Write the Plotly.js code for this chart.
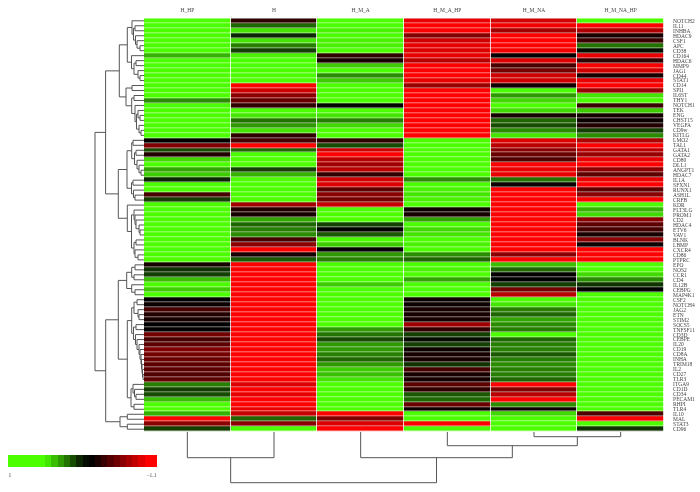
<!DOCTYPE html>
<html lang="en">
<head>
    <meta charset="UTF-8">
    <title>Heatmap</title>
    <script src="https://cdn.plot.ly/plotly-3.0.1.min.js"></script>
    <style>
        body { margin: 0; padding: 0; background: #fff; }
        /* small labels came out with coloured fringes */
        .xaxislayer-above, .yaxislayer-above { filter: grayscale(1); }
    </style>
</head>
<body>
    <div id="plot" style="width:700px;height:492px;"></div>
    <script>
        const groups = ['H_HP', 'H', 'H_M_A', 'H_M_A_HP', 'H_M_NA', 'H_M_NA_HP'];

        const genes = ['NOTCH2', 'IL11', 'INHBA', 'HDAC9', 'CSF1', 'APC', 'CD38', 'CD164', 'HDAC6', 'MMP9', 'JAG1', 'CD44', 'STAT1',
            'CD14', 'SPI1', 'IL6ST', 'THY1', 'NOTCH1', 'TEK', 'ENG', 'CHST15', 'VEGFA', 'CD9w', 'KITLG', 'LMO2', 'TAL1', 'GATA1', 'GATA2',
            'CD80', 'DLL1', 'ANGPT1', 'HDAC7', 'IL1A', 'SFXN1', 'RUNX1', 'ASH1L', 'CRFB', 'KDR', 'FLT3LG', 'PROM1', 'CD2', 'HDAC4', 'ETV6',
            'VAV1', 'BLNK', 'LBMP', 'CXCR4', 'CD86', 'PTPRC', 'EPO', 'NOS2', 'CCR1', 'CD4', 'IL12B', 'CEBPG', 'MAP4K1', 'CSF2', 'NOTCH4',
            'JAG2', 'ETN', 'STIM2', 'SOCS5', 'TNFSF11', 'CD3D', 'CEBPE', 'IL20', 'CD19', 'CD8A', 'INHA', 'TRIM18', 'IL2', 'CD27', 'TLR3',
            'ITGA9', 'CD1D', 'CD34', 'PECAM1', 'RHPI', 'TLR4', 'IL10', 'MAL', 'STAT3', 'CD96'];

        // values, one list per column, top row first
        const valuesHHp = [1, 1, 1, 1, 1, 1, 1, .7, 1, 1, 1, 1, 1, 1, 1, 1, .55, 1, 1, 1, 1, 1, 1, 1,
            0, -.55, .3, -.15, .85, 1, .65, .8, .15, 1, 1, -.3, .25, 1, 1, 1, 1, 1, 1, 1, 1, 1, 1, 1, 1,
            -.1, .2, .25, .75, 1, .8, 1, 0, -.05, -.3, -.15, -.1, 0, 0, -.5, -.3, -.4, -.55, -.5, -.45, -.4, -.4, -.35, -.4,
            .5, .25, .3, .75, 1, 1, .7, -1.1, -.6, .25];
        const valuesH = [-.2, .4, .9, .15, .9, .5, .25, .95, 1, 1, 1, 1, 1, -1.1, -.9, -.6, -.45, -.2, 1, .9, .45, .6, .9, -.2,
            -.3, -1.1, .4, 1, 1, 1, .25, .7, 1, 1, 1, 1, 1, -.7, -.15, -.1, .65, .4, .5, .55, -.3, -.6, -1.1, -.1, .35,
            -1.1, -1.1, -1.1, -1.1, -1.1, -1.1, -1.1, -1.1, -1.1, -1.1, -1.1, -1.1, -1.1, -1.1, -1.1, -1.1, -1.1, -1.1, -1.1, -1.1, -1.1, -1.1, -1.1, -1.1,
            -.95, -1.1, -1, -1.1, -1.1, -1, -.85, .4, -.6, 1];
        const valuesHMA = [1, 1, .95, 1, .95, .95, 1, -.2, -.1, .8, 1, .55, .8, 1, 1, 1, 1, 0, 1, .9, .5, .85, 1, 1,
            -.2, .3, -.9, -1.1, -.8, -.7, -.8, -.2, -.9, -.95, -.4, -.6, -.5, -.85, 1, 1, 1, .25, 0, .35, 1, .8, 0, .6, .5,
            1, 1, 1, 1, .8, 1, 1, 1, 1, 1, 1, 1, 1, .6, .45, .3, .6, .6, .5, .4, .6, .8, .75, .9,
            1, 1, 1, 1, 1, 1, -1.1, -.55, -.95, -1.1];
        const valuesHMAHp = [-1, -1.1, -1.1, -.55, -.9, -1, -.95, -1, -.8, -1.1, -1.1, -1.1, -1, -.65, -1.1, -1.1, -1.1, -1.1, -1.1, -1.1, -1.1, -1.1, -1.1, -1.1,
            1, 1, 1, 1, 1, 1, 1, 1, .55, 1, .95, .9, .95, 1, -.05, -.1, .65, 1, .85, .9, 1, .95, 1, .55, .4,
            1, .95, 1, .65, 1, 1, 1, -.05, -.05, -.1, -.1, -.1, -.7, -.2, .25, .05, .25, -.05, -.1, -.1, .2, -.3, -.1, -.1,
            -.4, -.2, .35, .4, -.45, -.05, 1, 1, -1.1, 1];
        const valuesHMNa = [-.9, -1.05, -.7, -1.1, -1.1, -1.1, -1.05, 0, -.95, -.3, -.5, -.9, -.9, -.05, 1, .6, .85, 1, .85, -.1, .4, .3, .55, .9,
            -.95, -.8, -.6, -.45, -.35, -1.1, -1, -1, .45, -.05, -1.1, -1.1, -1.1, -1.1, -1.1, -1.1, -1.1, -1.1, -1.1, -1.1, -1.1, -1.1, -1.1, -.6, -1.1,
            .75, .4, -.02, 0, .25, -.5, -.8, 1, .9, .5, .4, .65, .55, .5, 1, .4, .5, .5, .35, .5, .55, .5, .5, .4,
            -1.1, -.55, -.8, -1.1, .55, -.05, .85, 1, 1, 1];
        const valuesHMNaHp = [1, -1.1, -.75, -.1, -.25, .45, .05, -1, -.2, -1.1, -.9, -.1, -1, -1.1, -.65, .9, 1, -.25, .8, -.1, -.05, -.15, .25, .55,
            -.75, -1.1, -.8, -.65, -1, -1.1, -.6, -.4, -1, -1.1, -.4, -.6, -1.1, 1, .7, .85, -.6, -.4, -.3, -.1, -.6, -.05, -1.1, -1.1, -1.1,
            1, 1, .85, .55, .2, 0, 1, 1, 1, 1, 1, 1, 1, 1, 1, 1, 1, 1, 1, 1, 1, 1, 1, 1,
            1, 1, 1, 1, 1, 1, -.35, -1.1, 1, .2];

        const colorbarLevels = [1, 1, 1, 1, 1, 1, .9, .75, .6, .45, .3, .15, .05, -.02, -.12, -.24, -.36, -.48, -.6, -.72, -.84, -.96, -1.1, -1.1];

        // dendrograms: [merge height in px, child, child], a plain number is a leaf (1 based)
        const topA = [24.7,
            [16.7,
                [12, 1, [10.5, [9, 2, 3], [8.5, 4, [7, 5, [4, 6, 7]]]]],
                [12.5, 8, [10, [8, 9, 10], [6, 11, [4, 12, 13]]]]],
            [18, [12, 14, 15], [12.3, [10, 16, 17], [9, 18, [7.5, [6, 19, [4, 20, 21]], [5, 22, [3, 23, 24]]]]]]];
        const topB = [25.7,
            [17,
                [12.3, [11, 25, 26], [9.5, [8, 27, 28], [7, 29, [5, 30, [3, 31, 32]]]]],
                [12.5, [11, 33, 34], [10.5, 35, [9, 36, 37]]]],
            [16.7, 38, [12.5, [10, 39, [9, 40, [8, 41, [5, 42, [4, 43, 44]]]]], [10, [8, 45, 46], [9, 47, [6, 48, 49]]]]]];
        const lowA = [25.7,
            [17.3, [12.3, [9, 50, 51], [10, 52, 53]], [12.3, 54, [9, 55, 56]]],
            [16.7,
                [12.3, [10, [7, 57, 58], [6, 59, [5, 60, 61]]],
                    [10.5, [8, 62, 63], [8.5, 64, [7, 65, [5, 66, [4, 67, [3, 68, [2.5, 69, [2, 70, [1.5, 71, [1, 72, 73]]]]]]]]]]],
                [13, [11, 74, [9.5, 75, [8, 76, 77]]], [10, 78, 79]]]];
        const lowB = [24, [16.7, 80, 81], [16.7, 82, 83]];
        const rowTree = [49, [38.4, topA, topB], [38.3, lowA, lowB]];
        const colTree = [51, [26, 1, 2], [26, 3, [14, 4, [5, 5, 6]]]];

        const columns = [valuesHHp, valuesH, valuesHMA, valuesHMAHp, valuesHMNa, valuesHMNaHp];
        const z = genes.map((g, r) => columns.map(c => c[r]));

        // walk a tree and collect the bracket lines
        function bracket(node, heights, places) {
            if (typeof node === 'number') {
                return { pos: node - 1, h: 0 };
            }
            const a = bracket(node[1], heights, places);
            const b = bracket(node[2], heights, places);
            heights.push(a.h, node[0], node[0], b.h, null);
            places.push(a.pos, a.pos, b.pos, b.pos, null);
            return { pos: (a.pos + b.pos) / 2, h: node[0] };
        }

        const rowH = [], rowP = [], colH = [], colP = [];
        bracket(rowTree, rowH, rowP);
        bracket(colTree, colH, colP);

        const fx = px => px / 700;
        const fy = px => 1 - px / 492;
        const labelFont = { family: 'Liberation Serif', size: 5.5, color: '#444' };
        const lineStyle = { color: '#555', width: 1 };

        const data = [
            { type: 'heatmap', z: z, coloraxis: 'coloraxis', xgap: 0.8, ygap: 0.5, hoverongaps: false },
            { type: 'scatter', mode: 'lines', x: rowH, y: rowP, xaxis: 'x2', yaxis: 'y', line: lineStyle, cliponaxis: false },
            { type: 'scatter', mode: 'lines', x: colP, y: colH, xaxis: 'x', yaxis: 'y3', line: lineStyle, cliponaxis: false },
            { type: 'heatmap', z: [colorbarLevels], coloraxis: 'coloraxis', xaxis: 'x4', yaxis: 'y4' }
        ];

        const hidden = { visible: false, fixedrange: true };
        const layout = {
            width: 700,
            height: 492,
            margin: { l: 0, r: 0, t: 0, b: 0 },
            paper_bgcolor: '#fff',
            plot_bgcolor: '#fff',
            showlegend: false,
            coloraxis: {
                cmin: -1.1,
                cmax: 1,
                showscale: false,
                colorscale: [[0, '#ff0000'], [0.524, '#000000'], [1, '#4cff00']]
            },
            xaxis: {
                domain: [fx(144), fx(664)],
                range: [-0.5, 5.5],
                side: 'top',
                anchor: 'y',
                tickmode: 'array',
                tickvals: [0, 1, 2, 3, 4, 5],
                ticktext: groups,
                tickfont: labelFont,
                ticklen: 3,
                tickcolor: 'rgba(0,0,0,0)',
                showgrid: false,
                zeroline: false
            },
            yaxis: {
                domain: [fy(431.7), fy(18.3)],
                range: [82.5, -0.5],
                side: 'right',
                anchor: 'x',
                tickmode: 'array',
                tickvals: genes.map((g, i) => i),
                ticktext: genes,
                tickfont: labelFont,
                ticklen: 7,
                tickcolor: 'rgba(0,0,0,0)',
                showgrid: false,
                zeroline: false
            },
            xaxis2: Object.assign({ domain: [fx(90), fx(144)], range: [54, 0], anchor: 'y' }, hidden),
            yaxis3: Object.assign({ domain: [fy(489.7), fy(431.7)], range: [58, 0], anchor: 'x' }, hidden),
            xaxis4: {
                domain: [fx(8), fx(157)],
                range: [-0.5, colorbarLevels.length - 0.5],
                anchor: 'y4',
                tickmode: 'array',
                tickvals: [-0.2, colorbarLevels.length - 1.4],
                ticktext: ['1', '\u22121.1'],
                tickfont: labelFont,
                ticklen: 2,
                tickcolor: 'rgba(0,0,0,0)',
                showgrid: false,
                zeroline: false,
                showline: false
            },
            yaxis4: Object.assign({ domain: [fy(467), fy(455)], range: [-0.5, 0.5], anchor: 'x4' }, hidden)
        };

        Plotly.newPlot('plot', data, layout, { staticPlot: true, displayModeBar: false });
    </script>
</body>
</html>
